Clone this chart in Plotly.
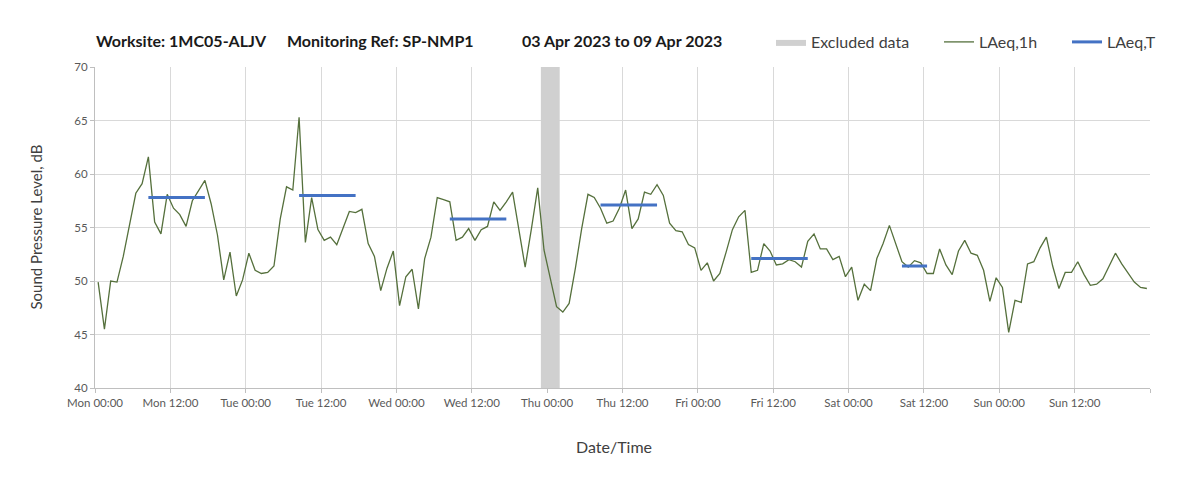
import pandas as pd
import plotly.graph_objects as go

# ---------------- data ----------------
start = "2023-04-03 00:00"
laeq_1h = [
    49.9, 45.5, 50.0, 49.9, 52.3, 55.1, 58.2, 59.1, 61.6, 55.5, 54.4, 58.1,
    56.8, 56.2, 55.1, 57.5, 58.5, 59.4, 57.2, 54.3, 50.1, 52.7, 48.6, 50.1,
    52.6, 51.0, 50.7, 50.8, 51.4, 55.8, 58.8, 58.5, 65.3, 53.6, 57.8, 54.8,
    53.8, 54.1, 53.4, 54.9, 56.5, 56.4, 56.7, 53.5, 52.3, 49.1, 51.2, 52.8,
    47.7, 50.4, 51.1, 47.4, 52.1, 54.1, 57.8, 57.6, 57.4, 53.8, 54.1, 54.9,
    53.8, 54.8, 55.1, 57.4, 56.6, 57.4, 58.3, 54.8, 51.3, 54.9, 58.7, 52.9,
    50.1, 47.6, 47.1, 47.9, 51.2, 54.9, 58.1, 57.8, 56.8, 55.4, 55.6, 56.8,
    58.5, 54.9, 55.8, 58.3, 58.1, 59.0, 58.0, 55.4, 54.7, 54.6, 53.4, 53.1,
    51.0, 51.7, 50.0, 50.7, 52.7, 54.8, 56.0, 56.6, 50.8, 51.0, 53.5, 52.8,
    51.5, 51.6, 52.0, 51.8, 51.3, 53.7, 54.4, 53.0, 53.0, 52.0, 52.3, 50.4,
    51.3, 48.2, 49.7, 49.1, 52.1, 53.5, 55.2, 53.5, 51.8, 51.3, 51.9, 51.7,
    50.7, 50.7, 53.0, 51.5, 50.6, 52.8, 53.8, 52.6, 52.4, 51.0, 48.1, 50.3,
    49.4, 45.2, 48.2, 48.0, 51.6, 51.8, 53.1, 54.1, 51.4, 49.3, 50.8, 50.8,
    51.8, 50.6, 49.6, 49.7, 50.2, 51.4, 52.6, 51.6, 50.7, 49.9, 49.4, 49.3,
]

# LAeq,T : assessment periods (first hour start, last hour start) and values
period_day = ["2023-04-03", "2023-04-04", "2023-04-05", "2023-04-06", "2023-04-07", "2023-04-08"]
period_first_hour = ["08:00", "08:00", "08:00", "08:00", "08:00", "08:00"]
period_last_hour = ["17:00", "17:00", "17:00", "17:00", "17:00", "12:00"]
laeq_t = [57.8, 58.0, 55.8, 57.1, 52.1, 51.4]

excluded_start = "2023-04-05 23:00"
excluded_end = "2023-04-06 02:00"

y_min, y_max = 40, 70
tick_labels = ["Mon 00:00", "Mon 12:00", "Tue 00:00", "Tue 12:00", "Wed 00:00", "Wed 12:00",
               "Thu 00:00", "Thu 12:00", "Fri 00:00", "Fri 12:00", "Sat 00:00", "Sat 12:00",
               "Sun 00:00", "Sun 12:00", ""]

# ---------------- derived ----------------
half = pd.Timedelta(minutes=30)
t0 = pd.Timestamp(start)
times = pd.date_range(t0, periods=len(laeq_1h), freq="h") + half
tick_vals = pd.date_range(t0, periods=len(tick_labels), freq="12h")
x_end = t0 + pd.Timedelta(hours=len(laeq_1h))

FONT = "Lato"
PX0, PW, PY0, PH = 95, 1055, 67, 321   # plot area in page pixels (for placing text)


def px_x(px):
    return (px - PX0) / PW


def px_y(py):
    return 1 - (py - PY0) / PH


fig = go.Figure()

fig.add_trace(go.Scatter(
    x=[excluded_start, excluded_end, excluded_end, excluded_start, excluded_start],
    y=[y_min, y_min, y_max, y_max, y_min],
    fill="toself", fillcolor="#d0d0d0", line=dict(width=0, color="#d0d0d0"),
    mode="lines", name="Excluded data", hoverinfo="skip", legend="legend",
))

fig.add_trace(go.Scatter(
    x=times, y=laeq_1h, mode="lines", name="LAeq,1h",
    line=dict(color="#55703c", width=1.3), legend="legend2",
))

for i, (d, a, b, v) in enumerate(zip(period_day, period_first_hour, period_last_hour, laeq_t)):
    xa = pd.Timestamp(f"{d} {a}") + half
    xb = pd.Timestamp(f"{d} {b}") + half
    fig.add_trace(go.Scatter(
        x=[xa, xb], y=[v, v], mode="lines", name="LAeq,T",
        line=dict(color="#4472c4", width=3), legendgroup="laeqt",
        showlegend=(i == 0), legend="legend3",
    ))

leg_common = dict(orientation="h", xanchor="left", yanchor="middle", y=px_y(42),
                  font=dict(family=FONT, size=16, color="#404040"),
                  bgcolor="rgba(0,0,0,0)", borderwidth=0)

fig.update_layout(
    width=1195, height=469,
    margin=dict(l=87, r=53, t=59, b=89),
    paper_bgcolor="white", plot_bgcolor="white",
    font=dict(family=FONT, color="#404040"),
    showlegend=True,
    legend=dict(x=px_x(771), **leg_common),
    legend2=dict(x=px_x(939), **leg_common),
    legend3=dict(x=px_x(1067), **leg_common),
)

fig.update_xaxes(
    range=[t0, x_end], tickvals=tick_vals, ticktext=tick_labels,
    showgrid=True, gridcolor="#d9d9d9", gridwidth=1,
    showline=True, linecolor="#bfbfbf", linewidth=1,
    ticks="outside", ticklen=4, tickcolor="#bfbfbf",
    tickfont=dict(family=FONT, size=11.5, color="#595959"),
    zeroline=False,
)
fig.update_yaxes(
    range=[y_min, y_max], dtick=5,
    showgrid=True, gridcolor="#d9d9d9", gridwidth=1,
    showline=True, linecolor="#bfbfbf", linewidth=1,
    ticks="outside", ticklen=4, tickcolor="#bfbfbf",
    tickfont=dict(family=FONT, size=11.5, color="#595959"),
    zeroline=False,
)

# titles
title_font = dict(family=FONT, size=16, color="#1a1a1a")
for txt, px in [("<b>Worksite: 1MC05-ALJV</b>", 94),
                ("<b>Monitoring Ref: SP-NMP1</b>", 285),
                ("<b>03 Apr 2023 to 09 Apr 2023</b>", 520)]:
    fig.add_annotation(text=txt, xref="paper", yref="paper",
                       x=px_x(px), y=px_y(40), xanchor="left", yanchor="middle",
                       showarrow=False, font=title_font)

fig.add_annotation(text="Date/Time", xref="paper", yref="paper",
                   x=px_x(614), y=px_y(446), xanchor="center", yanchor="middle",
                   showarrow=False, font=dict(family=FONT, size=16, color="#404040"))
fig.add_annotation(text="Sound Pressure Level, dB", xref="paper", yref="paper",
                   x=px_x(35), y=0.5, xanchor="center", yanchor="middle", textangle=-90,
                   showarrow=False, font=dict(family=FONT, size=15, color="#404040"))

fig.write_html("out.html")
